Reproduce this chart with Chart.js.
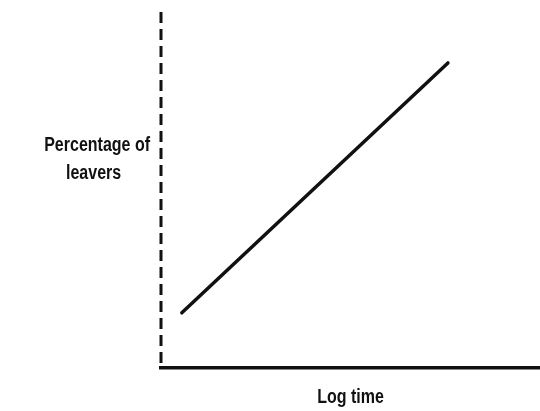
<!DOCTYPE html>
<html>
<head>
<meta charset="utf-8">
<script src="https://cdn.jsdelivr.net/npm/chart.js@4"></script>
<style>
  html, body { margin: 0; padding: 0; background: #fff; }
  canvas { display: block; }
</style>
</head>
<body>
<canvas id="leaversChart" width="540" height="411"></canvas>
<script>
// --- Data (arbitrary units, sketch chart) ---
const logTime = [0.55, 7.57];
const leaversPct = [1.55, 8.57];
const xLabel = 'Log time';
const yLabel = ['Percentage of', 'leavers'];

const INK = '#111';
const LABEL_FONT = 'bold 20px "Liberation Sans", Arial, sans-serif';
const SQUEEZE = 0.8; // the scan uses a condensed face

function drawLabel(ctx, text, x, y, align) {
    ctx.save();
    ctx.translate(x, y);
    ctx.scale(SQUEEZE, 1);
    ctx.textAlign = align;
    ctx.fillText(text, 0, 0);
    ctx.restore();
}

// dashed y axis + horizontal axis labels, drawn by hand
const sketchAxes = {
    id: 'sketchAxes',
    afterDraw(chart) {
        const { ctx, chartArea } = chart;
        ctx.save();

        // dashed vertical axis
        ctx.strokeStyle = INK;
        ctx.lineWidth = 3;
        ctx.setLineDash([11, 6]);
        ctx.beginPath();
        ctx.moveTo(chartArea.left, chartArea.top);
        ctx.lineTo(chartArea.left, chartArea.bottom - 2);
        ctx.stroke();
        ctx.setLineDash([]);

        ctx.fillStyle = INK;
        ctx.font = LABEL_FONT;
        ctx.textBaseline = 'middle';
        drawLabel(ctx, yLabel[0], chartArea.left - 11, 145, 'right');
        drawLabel(ctx, yLabel[1], 66, 173, 'left');
        drawLabel(ctx, xLabel, (chartArea.left + chartArea.right) / 2, 397, 'center');
        ctx.restore();
    }
};

const ctx = document.getElementById('leaversChart').getContext('2d');

new Chart(ctx, {
    type: 'line',
    data: {
        datasets: [{
            data: logTime.map((x, i) => ({ x: x, y: leaversPct[i] })),
            borderColor: INK,
            borderWidth: 3.5,
            borderCapStyle: 'round',
            pointRadius: 0,
            tension: 0
        }]
    },
    options: {
        responsive: false,
        animation: false,
        layout: {
            padding: { left: 161, top: 12, right: 0, bottom: 43 }
        },
        plugins: {
            legend: { display: false },
            tooltip: { enabled: false }
        },
        scales: {
            x: {
                type: 'linear',
                min: 0,
                max: 10,
                ticks: { display: false },
                grid: { display: false, drawTicks: false },
                border: { display: true, color: INK, width: 3.5 }
            },
            y: {
                type: 'linear',
                min: 0,
                max: 10,
                ticks: { display: false },
                grid: { display: false, drawTicks: false },
                border: { display: false }
            }
        }
    },
    plugins: [sketchAxes]
});
</script>
</body>
</html>
